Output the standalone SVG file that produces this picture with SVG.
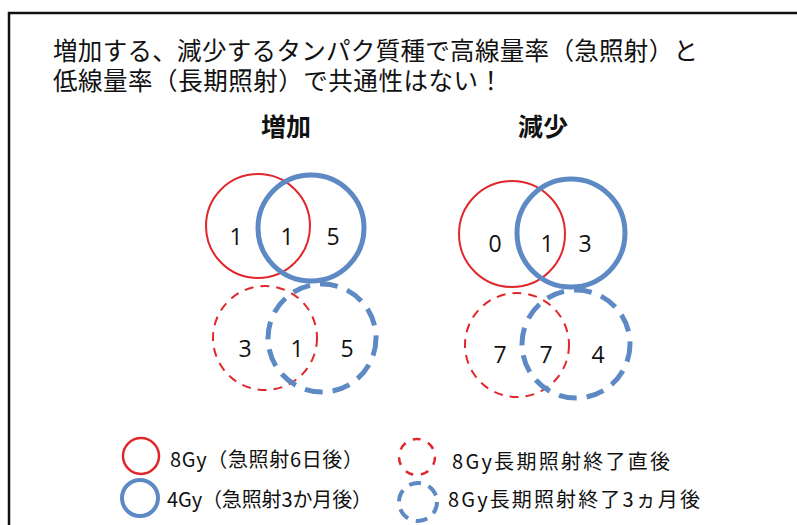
<svg xmlns="http://www.w3.org/2000/svg" width="797" height="525" viewBox="0 0 797 525">
<style>
.jp{font-family:"Noto Sans CJK JP","Noto Sans",sans-serif;fill:#111}
.t{font-size:24.5px}
.h{font-size:25px;font-weight:bold}
.lg{font-size:20px}
.n{font-family:"Open Sans","Liberation Sans",sans-serif;font-size:23px;fill:#111;text-anchor:middle}
.rs{fill:none;stroke:#e0282c;stroke-width:2}
.bs{fill:none;stroke:#5d8ac4;stroke-width:5}
.rd{fill:none;stroke:#e0282c;stroke-width:2;stroke-dasharray:9 7}
.bd{fill:none;stroke:#5d8ac4;stroke-width:5;stroke-dasharray:18 10}
</style>
<rect width="797" height="525" fill="#fff"/>
<path d="M9 525V13H797" fill="none" stroke="#111" stroke-width="2.5"/>
<g id="title">
<text class="jp t" x="53" y="60" textLength="645" lengthAdjust="spacing">増加する、減少するタンパク質種で高線量率（急照射）と</text>
<text class="jp t" x="53" y="90" textLength="450" lengthAdjust="spacing">低線量率（長期照射）で共通性はない！</text>
</g>
<g id="inc">
<text class="jp h" x="261" y="136">増加</text>
<circle class="rs" cx="258" cy="226" r="52"/>
<circle class="bs" cx="311" cy="228" r="53"/>
<circle class="rd" cx="265" cy="338" r="52"/>
<circle class="bd" cx="322" cy="338" r="54"/>
<text class="n" x="236" y="245">1</text>
<text class="n" x="287" y="245">1</text>
<text class="n" x="333" y="245">5</text>
<text class="n" x="245" y="357">3</text>
<text class="n" x="297" y="357">1</text>
<text class="n" x="347" y="357">5</text>
</g>
<g id="dec">
<text class="jp h" x="518" y="136">減少</text>
<circle class="rs" cx="512" cy="234" r="53"/>
<circle class="bs" cx="571" cy="233" r="54"/>
<circle class="rd" cx="517" cy="345" r="52"/>
<circle class="bd" cx="576" cy="344" r="54"/>
<text class="n" x="495" y="252">0</text>
<text class="n" x="547" y="252">1</text>
<text class="n" x="585" y="252">3</text>
<text class="n" x="500" y="363">7</text>
<text class="n" x="546" y="363">7</text>
<text class="n" x="598" y="363">4</text>
</g>
<g id="legend">
<circle cx="141" cy="456" r="18" fill="none" stroke="#e0282c" stroke-width="2.5"/>
<text class="jp lg" x="170" y="467" textLength="193" lengthAdjust="spacing">8Gy（急照射6日後）</text>
<circle cx="140" cy="498" r="18" fill="none" stroke="#5d8ac4" stroke-width="4"/>
<text class="jp lg" x="167" y="507" textLength="205" lengthAdjust="spacing">4Gy（急照射3か月後）</text>
<circle cx="417" cy="457" r="18" fill="none" stroke="#e0282c" stroke-width="2.5" stroke-dasharray="8 8"/>
<text class="jp lg" x="452" y="469" textLength="218" lengthAdjust="spacing">8Gy長期照射終了直後</text>
<circle cx="418" cy="502" r="19" fill="none" stroke="#5d8ac4" stroke-width="4" stroke-dasharray="12 8"/>
<text class="jp lg" x="448" y="507" textLength="252" lengthAdjust="spacing">8Gy長期照射終了3ヵ月後</text>
</g>
</svg>
